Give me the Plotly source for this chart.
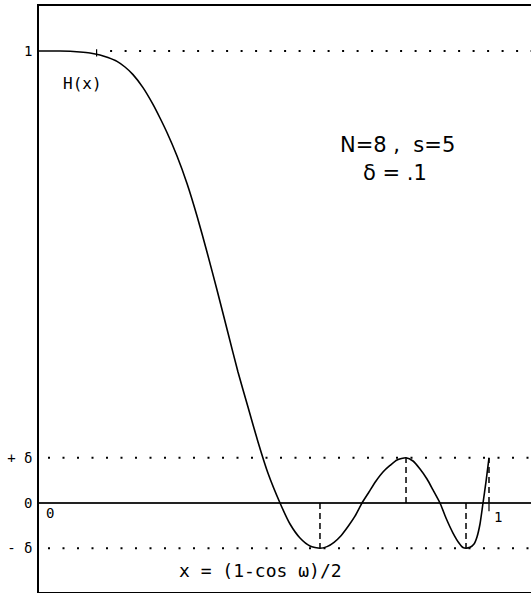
import plotly.graph_objects as go

# Response curve H(x), sampled along the trace
x_pts = [0.0000, 0.0467, 0.0911, 0.1133, 0.1356, 0.1533, 0.1733, 0.1911, 0.2089, 0.2311,
         0.2533, 0.2689, 0.2844, 0.3067, 0.3289, 0.3511, 0.3733, 0.3956, 0.4200, 0.4422,
         0.4644, 0.4867, 0.5089, 0.5356, 0.5578, 0.5800, 0.6022, 0.6244, 0.6400, 0.6556,
         0.6711, 0.6867, 0.7022, 0.7178, 0.7333, 0.7489, 0.7644, 0.7800, 0.7956, 0.8156,
         0.8311, 0.8467, 0.8622, 0.8756, 0.8911, 0.9044, 0.9200, 0.9333, 0.9422, 0.9489,
         0.9578, 0.9667, 0.9733, 0.9800, 0.9867, 0.9933, 1.0000]
h_pts = [1.0000, 1.0000, 0.9978, 0.9956, 0.9912, 0.9856, 0.9770, 0.9646, 0.9478, 0.9190,
         0.8819, 0.8518, 0.8197, 0.7677, 0.7069, 0.6350, 0.5553, 0.4712, 0.3761, 0.2898,
         0.2124, 0.1350, 0.0657, 0.0000, -0.0465, -0.0774, -0.0951, -0.1000, -0.0965, -0.0869,
         -0.0723, -0.0520, -0.0292, 0.0000, 0.0243, 0.0487, 0.0686, 0.0830, 0.0951, 0.1000,
         0.0929, 0.0752, 0.0531, 0.0288, 0.0000, -0.0332, -0.0664, -0.0885, -0.0985, -0.1000,
         -0.0980, -0.0907, -0.0752, -0.0465, 0.0000, 0.0465, 0.1000]

# Extremal points of the stopband ripple
ext_x = [0.6244, 0.8156, 0.9489, 1.0000]
ext_y = [-0.1, 0.1, -0.1, 0.1]

delta = 0.1
passband_edge = 0.128

y_tickvals = [1, delta, 0, -delta]
y_ticktext = ["1", "+ δ", "0", "- δ"]

X_MAX = 492 / 450
Y_MIN, Y_MAX = -89 / 452, 497 / 452

MONO = "DejaVu Sans Mono"

fig = go.Figure()

# dotted reference levels
dot_style = dict(color="black", width=2, dash="2px,12.5px")
fig.add_trace(go.Scatter(x=[passband_edge + 0.03, X_MAX], y=[1, 1], mode="lines",
                         line=dot_style, hoverinfo="skip"))
for lvl in (delta, -delta):
    fig.add_trace(go.Scatter(x=[0.02, X_MAX], y=[lvl, lvl], mode="lines",
                             line=dot_style, hoverinfo="skip"))

# dashed drop lines from the axis to each extremum
dx, dy = [], []
for xe, ye in zip(ext_x, ext_y):
    dx += [xe, xe, None]
    dy += [0, ye, None]
fig.add_trace(go.Scatter(x=dx, y=dy, mode="lines",
                         line=dict(color="black", width=1.5, dash="6px,4px"),
                         hoverinfo="skip"))

# small marker ticks: passband edge on the curve and x = 1 on the axis
fig.add_trace(go.Scatter(x=[passband_edge, passband_edge, None, 1, 1],
                         y=[1.004, 0.988, None, 0, -0.018], mode="lines",
                         line=dict(color="black", width=1.2), hoverinfo="skip"))

# H(x)
fig.add_trace(go.Scatter(x=x_pts, y=h_pts, mode="lines",
                         line=dict(color="black", width=1.6, shape="spline", smoothing=0.6),
                         hoverinfo="skip"))

fig.update_layout(
    width=531, height=593,
    margin=dict(l=39, r=0, t=6, b=1),
    paper_bgcolor="white", plot_bgcolor="white",
    showlegend=False,
    xaxis=dict(range=[0, X_MAX], showgrid=False, zeroline=False,
               showline=True, mirror=True, linecolor="black", linewidth=1.5,
               showticklabels=False, ticks=""),
    yaxis=dict(range=[Y_MIN, Y_MAX], showgrid=False,
               zeroline=True, zerolinecolor="#222", zerolinewidth=1.6,
               showline=True, mirror=False, linecolor="black", linewidth=1.5,
               tickvals=y_tickvals, ticktext=y_ticktext, ticks="",
               ticklabelstandoff=2,
               tickfont=dict(family=MONO, size=14, color="black")),
)

annotations = [
    dict(x=0.096, y=0.929, text="H(x)", size=16, family=MONO, anchor="center"),
    dict(x=0.010, y=-0.022, text="0", size=14, family=MONO, anchor="left"),
    dict(x=1.006, y=-0.030, text="1", size=14, family=MONO, anchor="left"),
    dict(x=0.493, y=-0.150, text="x = (1-cos ω)/2", size=18, family=MONO, anchor="center"),
    dict(x=0.796, y=0.792, text="N=8 ,  s=5", size=21, family="DejaVu Sans", anchor="center"),
    dict(x=0.791, y=0.730, text="δ = .1", size=21, family="DejaVu Sans", anchor="center"),
]
for a in annotations:
    fig.add_annotation(xref="x", yref="y", x=a["x"], y=a["y"], text=a["text"],
                       xanchor=a["anchor"], showarrow=False,
                       font=dict(family=a["family"], size=a["size"], color="black"))

fig.write_html("out.html")
